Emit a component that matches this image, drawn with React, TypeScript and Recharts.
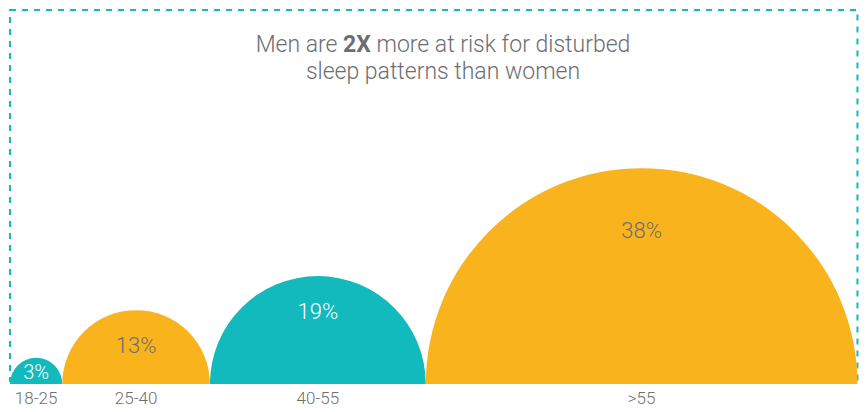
import { ScatterChart, Scatter, XAxis, YAxis, ReferenceArea } from 'recharts';

const AGE_GROUPS = ['18-25', '25-40', '40-55', '>55'];
const RISK_PCT = [3, 13, 19, 38];
const BUBBLE_COLORS = ['#12b9bd', '#f9b31d', '#12b9bd', '#f9b31d'];
const LABEL_COLORS = ['#ffffff', '#6d6e71', '#ffffff', '#6d6e71'];

const TEAL = '#12b9bd';
const GREY = '#6d6e71';

const WIDTH = 867;
const HEIGHT = 412;
const AXIS_H = 28;
const PX_PER_UNIT = 5.68;
const X_MAX = WIDTH / PX_PER_UNIT;
const Y_MAX = (HEIGHT - AXIS_H) / PX_PER_UNIT;
const MIN_RADIUS = 4.6;
const LEFT_PAD = 10 / PX_PER_UNIT;
const TOP_PAD = 10 / PX_PER_UNIT;

if (typeof document !== 'undefined') document.body.style.margin = '0';

// semicircles sit side by side; diameter follows the percentage
const bubbles = (() => {
  let edge = LEFT_PAD;
  return RISK_PCT.map((pct, i) => {
    const r = Math.max(pct, MIN_RADIUS);
    const x = edge + r;
    edge += 2 * r;
    return { name: AGE_GROUPS[i], pct, r, x, y: 0, color: BUBBLE_COLORS[i], labelColor: LABEL_COLORS[i] };
  });
})();

const leftEdge = LEFT_PAD;
const rightEdge = bubbles[bubbles.length - 1].x + bubbles[bubbles.length - 1].r;

const Bubble = (props: any) => {
  const { cx, cy, payload } = props;
  const r = payload.r * PX_PER_UNIT;
  const offset = r < 30 ? r * 0.55 : r < 150 ? 35 : r * 0.29;
  return (
    <g>
      <path
        d={`M ${cx - r} ${cy} A ${r} ${r} 0 0 1 ${cx + r} ${cy} Z`}
        fill={payload.color}
      />
      <text
        x={cx}
        y={cy - r + offset}
        textAnchor="middle"
        dominantBaseline="central"
        fontSize={r < 30 ? 20 : 22}
        fontWeight={300}
        fill={payload.labelColor}
      >
        {payload.pct}%
      </text>
    </g>
  );
};

const AgeTick = (props: any) => {
  const { x, y, index } = props;
  return (
    <text
      x={x}
      y={y + 18}
      textAnchor="middle"
      fontSize={17}
      fontWeight={300}
      fill={GREY}
    >
      {bubbles[index]?.name}
    </text>
  );
};

export default function App() {
  return (
    <div
      style={{
        position: 'relative',
        width: WIDTH,
        height: HEIGHT,
        fontFamily: 'Roboto, "Noto Sans", sans-serif',
        background: '#fff',
      }}
    >
      <ScatterChart
        width={WIDTH}
        height={HEIGHT}
        margin={{ top: 0, right: 0, bottom: 0, left: 0 }}
      >
        <XAxis
          type="number"
          dataKey="x"
          domain={[0, X_MAX]}
          ticks={bubbles.map((b) => b.x)}
          interval={0}
          axisLine={false}
          tickLine={false}
          tickSize={0}
          height={AXIS_H}
          tick={<AgeTick />}
          allowDataOverflow
        />
        <YAxis type="number" dataKey="y" domain={[0, Y_MAX]} hide allowDataOverflow />
        <ReferenceArea
          x1={leftEdge}
          x2={rightEdge}
          y1={3 / PX_PER_UNIT}
          y2={Y_MAX - TOP_PAD}
          fill="none"
          stroke={TEAL}
          strokeWidth={2}
          strokeDasharray="6 6"
          ifOverflow="visible"
        />
        <Scatter data={bubbles} shape={<Bubble />} isAnimationActive={false} />
      </ScatterChart>
      <div
        style={{
          position: 'absolute',
          top: 31,
          left: 0,
          width: WIDTH,
          paddingLeft: 19,
          boxSizing: 'border-box',
          textAlign: 'center',
          fontSize: 23,
          lineHeight: '27px',
          color: GREY,
          fontWeight: 300,
        }}
      >
        Men are <b style={{ fontWeight: 700 }}>2X</b> more at risk for disturbed
        <br />
        sleep patterns than women
      </div>
    </div>
  );
}
